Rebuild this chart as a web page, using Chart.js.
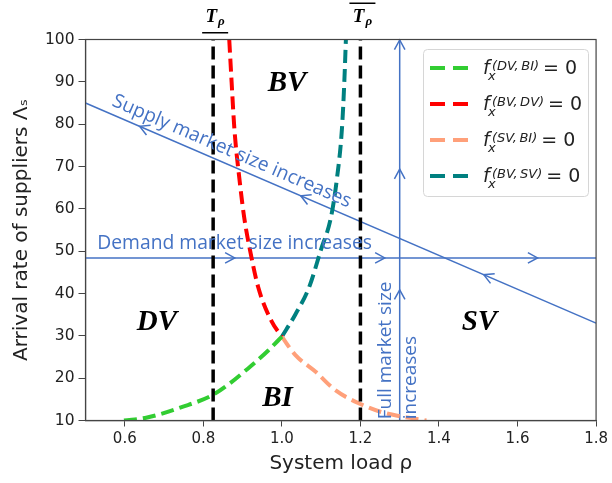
<!DOCTYPE html>
<html>
<head>
<meta charset="utf-8">
<script src="https://cdn.jsdelivr.net/npm/chart.js@4.4.1/dist/chart.umd.min.js"></script>
<style>
  html, body { margin: 0; padding: 0; background: #fff; }
  canvas { display: block; }
</style>
</head>
<body>
<canvas id="chart" width="612" height="483"></canvas>
<script>
// boundary curves
const greenX = [0.598, 0.657, 0.743, 0.829, 0.914, 0.966, 1.0];
const greenY = [10, 10.7, 13.1, 16.3, 22.3, 26.6, 29.8];
const redX = [0.866, 0.872, 0.879, 0.892, 0.904, 0.919, 0.94, 0.974, 1.0];
const redY = [100, 90, 79, 67, 58, 50.2, 41.4, 33.4, 29.8];
const salmonX = [1.0, 1.034, 1.086, 1.137, 1.2, 1.257, 1.368];
const salmonY = [29.8, 25.5, 21.5, 17.1, 13.9, 11.9, 10];
const tealX = [1.0, 1.034, 1.069, 1.099, 1.125, 1.14, 1.153, 1.159, 1.163];
const tealY = [29.8, 35, 41.4, 50.2, 58, 67, 79, 90, 100];

// thresholds (vertical dashed lines)
const thresholdX = [0.825, 1.2];
const thresholdLabels = ['under', 'over'];

// market size lines
const supplyX = [0.5, 1.8];
const supplyY = [85, 33];
const demandX = [0.5, 1.8];
const demandY = [48.4, 48.4];
const fullX = [1.3, 1.3];
const fullY = [10, 100];

// arrow heads along the blue lines
const supplyArrowX = [0.638, 1.048, 1.514];
const demandArrowX = [0.88, 1.262, 1.651];
const fullArrowY = [41, 69.5, 100];

// regions
const regionNames = ['BV', 'DV', 'BI', 'SV'];
const regionX = [1.013, 0.682, 0.989, 1.503];
const regionY = [87.8, 31.4, 13.4, 31.4];

const xTicks = [0.6, 0.8, 1.0, 1.2, 1.4, 1.6, 1.8];
const yTicks = [10, 20, 30, 40, 50, 60, 70, 80, 90, 100];

const legendSup = ['(DV,\u2009BI)', '(BV,\u2009DV)', '(SV,\u2009BI)', '(BV,\u2009SV)'];

const BLUE = '#4472C4';
const pts = (xs, ys) => xs.map((x, i) => ({ x: x, y: ys[i] }));

const curve = (label, xs, ys, color) => ({
  label: label, data: pts(xs, ys), borderColor: color, borderWidth: 4,
  borderDash: [13, 6], pointRadius: 0, cubicInterpolationMode: 'monotone', fill: false
});
const plain = (xs, ys, color, width, dash) => ({
  data: pts(xs, ys), borderColor: color, borderWidth: width,
  borderDash: dash || [], pointRadius: 0, tension: 0, fill: false
});

const curveColors = ['#32CD32', '#FF0000', '#FFA07A', '#008080'];

function chevron(ctx, x, y, ang) {
  const L = 11, s = 0.5;
  ctx.beginPath();
  ctx.moveTo(x - L * Math.cos(ang - s), y - L * Math.sin(ang - s));
  ctx.lineTo(x, y);
  ctx.lineTo(x - L * Math.cos(ang + s), y - L * Math.sin(ang + s));
  ctx.stroke();
}

const overlay = {
  id: 'overlay',
  afterDatasetsDraw(chart) {
    const { ctx, chartArea: a, scales: { x, y } } = chart;
    ctx.save();

    // arrows
    ctx.strokeStyle = BLUE;
    ctx.lineWidth = 1.5;
    const sAng = Math.atan2(y.getPixelForValue(supplyY[0]) - y.getPixelForValue(supplyY[1]),
                            x.getPixelForValue(supplyX[0]) - x.getPixelForValue(supplyX[1]));
    supplyArrowX.forEach(v => {
      const yv = supplyY[0] + (supplyY[1] - supplyY[0]) * (v - supplyX[0]) / (supplyX[1] - supplyX[0]);
      chevron(ctx, x.getPixelForValue(v), y.getPixelForValue(yv), sAng);
    });
    demandArrowX.forEach(v => chevron(ctx, x.getPixelForValue(v), y.getPixelForValue(demandY[0]), 0));
    fullArrowY.forEach(v => chevron(ctx, x.getPixelForValue(fullX[0]), y.getPixelForValue(v) + 0.5, -Math.PI / 2));

    // blue annotations
    ctx.fillStyle = BLUE;
    ctx.font = '19.3px "Open Sans"';
    ctx.textBaseline = 'alphabetic';
    ctx.textAlign = 'left';
    ctx.fillText('Demand market size increases', x.getPixelForValue(0.53), y.getPixelForValue(50.6));

    const sx = x.getPixelForValue(0.557);
    const sy = y.getPixelForValue(supplyY[0] + (supplyY[1] - supplyY[0]) * (0.557 - supplyX[0]) / (supplyX[1] - supplyX[0]));
    ctx.save();
    ctx.translate(sx, sy);
    ctx.rotate(sAng + Math.PI);
    ctx.fillText('Supply market size increases', 0, -8);
    ctx.restore();

    ctx.font = '19px "Open Sans"';
    ctx.save();
    ctx.translate(x.getPixelForValue(1.279), y.getPixelForValue(10.3));
    ctx.rotate(-Math.PI / 2);
    ctx.fillText('Full market size', 0, 0);
    ctx.restore();
    ctx.save();
    ctx.translate(x.getPixelForValue(1.342), y.getPixelForValue(10.3));
    ctx.rotate(-Math.PI / 2);
    ctx.fillText('increases', 0, 0);
    ctx.restore();

    // region names
    ctx.fillStyle = '#000';
    ctx.font = 'bold italic 29px "Liberation Serif"';
    ctx.textAlign = 'center';
    regionNames.forEach((n, i) => ctx.fillText(n, x.getPixelForValue(regionX[i]), y.getPixelForValue(regionY[i])));

    // threshold labels above the axes
    thresholdX.forEach((v, i) => {
      const cx = x.getPixelForValue(v) + 2;
      ctx.textAlign = 'left';
      ctx.font = 'bold italic 19px "Liberation Serif"';
      const tw = ctx.measureText('T').width;
      ctx.font = 'bold italic 13px "Liberation Serif"';
      const rw = ctx.measureText('\u03c1').width;
      const w = tw + 1 + rw;
      ctx.font = 'bold italic 19px "Liberation Serif"';
      ctx.fillText('T', cx - w / 2, 22);
      ctx.font = 'bold italic 13px "Liberation Serif"';
      ctx.fillText('\u03c1', cx - w / 2 + tw + 1, 25);
      ctx.fillRect(cx - 13, thresholdLabels[i] === 'under' ? 32 : 2.5, 26, 1.5);
    });

    // axes frame
    ctx.strokeStyle = '#444';
    ctx.lineWidth = 1.2;
    ctx.strokeRect(a.left, a.top, a.right - a.left, a.bottom - a.top);

    // legend
    const lx = 423, ly = 49, lw = 165, lh = 147;
    ctx.beginPath();
    ctx.roundRect(lx + 0.5, ly + 0.5, lw, lh, 4);
    ctx.fillStyle = 'rgba(255,255,255,0.85)';
    ctx.fill();
    ctx.strokeStyle = '#d6d6d6';
    ctx.lineWidth = 1;
    ctx.stroke();
    legendSup.forEach((sup, i) => {
      const cy = 68 + i * 36;
      ctx.strokeStyle = curveColors[i];
      ctx.lineWidth = 4;
      ctx.setLineDash([15, 8]);
      ctx.beginPath();
      ctx.moveTo(430, cy);
      ctx.lineTo(468, cy);
      ctx.stroke();
      ctx.setLineDash([]);
      ctx.fillStyle = '#222';
      ctx.textAlign = 'left';
      ctx.font = 'italic 19px "DejaVu Sans"';
      ctx.fillText('f', 483, cy + 6);
      ctx.font = 'italic 13px "DejaVu Sans"';
      ctx.fillText('x', 488, cy + 12);
      ctx.fillText(sup, 492, cy + 2);
      const sw = ctx.measureText(sup).width;
      ctx.font = '19px "DejaVu Sans"';
      ctx.fillText('= 0', 492 + sw + 4, cy + 6);
    });

    ctx.restore();
  }
};

new Chart(document.getElementById('chart'), {
  type: 'line',
  data: {
    datasets: [
      plain([thresholdX[0], thresholdX[0]], [10, 100], '#000', 3.5, [13, 6]),
      plain([thresholdX[1], thresholdX[1]], [10, 100], '#000', 3.5, [13, 6]),
      curve('DV,BI', greenX, greenY, curveColors[0]),
      curve('BV,DV', redX, redY, curveColors[1]),
      curve('SV,BI', salmonX, salmonY, curveColors[2]),
      curve('BV,SV', tealX, tealY, curveColors[3]),
      plain(supplyX, supplyY, BLUE, 1.5),
      plain(demandX, demandY, BLUE, 1.5),
      plain(fullX, fullY, BLUE, 1.5)
    ]
  },
  options: {
    responsive: false,
    animation: false,
    layout: { padding: { top: 39.5, right: 13.5, left: 0, bottom: 0 } },
    plugins: { legend: { display: false }, tooltip: { enabled: false } },
    scales: {
      x: {
        type: 'linear', min: 0.5, max: 1.8,
        afterBuildTicks: s => { s.ticks = xTicks.map(v => ({ value: v })); },
        afterFit: s => { s.height = 62.5; },
        grid: { display: true, drawOnChartArea: false, tickLength: 6, color: '#444' },
        border: { display: true, color: '#444', width: 1.2 },
        ticks: { color: '#222', font: { family: 'DejaVu Sans', size: 15 }, padding: 4, callback: v => v.toFixed(1), maxRotation: 0 },
        title: { display: true, text: 'System load \u03c1', color: '#222', font: { family: 'DejaVu Sans', size: 20 }, padding: { top: 7, bottom: 7 } }
      },
      y: {
        min: 10, max: 100,
        afterBuildTicks: s => { s.ticks = yTicks.map(v => ({ value: v })); },
        afterFit: s => { s.width = 85.5; },
        grid: { display: true, drawOnChartArea: false, tickLength: 7, color: '#444' },
        border: { display: true, color: '#444', width: 1.2 },
        ticks: { color: '#222', font: { family: 'DejaVu Sans', size: 15.5 }, padding: 4 },
        title: { display: true, text: 'Arrival rate of suppliers \u039b\u209b', color: '#222', font: { family: 'DejaVu Sans', size: 20 }, padding: { top: 10, bottom: 10 } }
      }
    }
  },
  plugins: [overlay]
});
</script>
</body>
</html>
